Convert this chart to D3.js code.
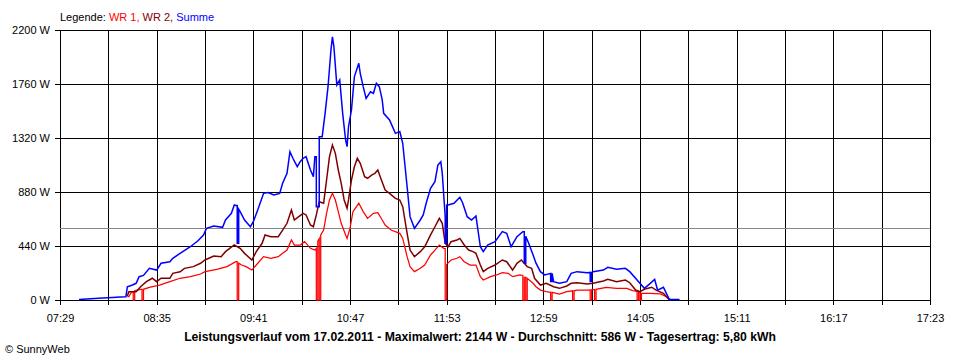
<!DOCTYPE html>
<html>
<head>
<meta charset="utf-8">
<script src="https://cdn.jsdelivr.net/npm/d3@7"></script>
<style>
  html, body { margin: 0; padding: 0; background: #fff; }
  svg { display: block; }
  text { font-family: "Liberation Sans", Arial, sans-serif; }
</style>
</head>
<body>
<svg id="chart" width="960" height="360"></svg>
<script>
// ---------- data ----------
const yTickValues = [0, 440, 880, 1320, 1760, 2200];
const xTickLabels = ["07:29", "08:35", "09:41", "10:47", "11:53", "12:59", "14:05", "15:11", "16:17", "17:23"];
const gridStepMinutes = 33;
const averageValue = 586;
const titleText = "Leistungsverlauf vom 17.02.2011 - Maximalwert: 2144 W - Durchschnitt: 586 W - Tagesertrag: 5,80 kWh";

// WR 1 (red)
const wr1Times = ["08:15","08:16","08:18","08:19","08:19","08:20","08:20","08:24","08:25","08:25","08:26","08:26","08:30","08:37","08:44","08:51","08:58","09:05","09:08","09:16","09:23","09:29","09:30","09:30","09:31","09:31","09:33","09:36","09:40","09:43","09:48","09:53","09:58","10:01","10:04","10:07","10:09","10:13","10:16","10:20","10:23","10:24","10:24","10:25","10:25","10:26","10:26","10:27","10:27","10:29","10:31","10:33","10:35","10:37","10:39","10:41","10:44","10:45","10:47","10:49","10:53","10:56","10:59","11:03","11:06","11:09","11:11","11:15","11:21","11:23","11:26","11:28","11:31","11:35","11:38","11:42","11:45","11:48","11:51","11:52","11:52","11:53","11:53","11:56","12:00","12:02","12:05","12:09","12:13","12:16","12:18","12:23","12:27","12:31","12:35","12:38","12:43","12:45","12:45","12:46","12:46","12:47","12:47","12:48","12:48","12:52","12:54","12:57","13:01","13:04","13:04","13:05","13:05","13:10","13:15","13:19","13:19","13:20","13:20","13:22","13:29","13:31","13:31","13:32","13:32","13:34","13:34","13:35","13:35","13:42","13:49","13:56","14:00","14:03","14:03","14:04","14:04","14:05","14:05","14:06","14:06","14:12","14:19","14:23","14:25"];
const wr1Values = [27,27,68,68,0,0,75,87,87,0,0,87,103,122,149,177,190,212,231,250,272,312,312,0,0,300,285,272,244,285,353,340,353,380,407,489,448,448,475,421,407,420,0,0,480,500,0,0,530,570,706,815,869,815,720,625,530,502,584,720,788,720,665,706,711,652,611,570,543,502,353,272,231,258,285,367,407,448,421,420,0,0,290,326,340,353,312,285,285,190,163,190,204,223,217,190,204,200,0,0,185,185,0,0,177,136,108,81,68,62,0,0,62,49,68,75,0,0,75,81,81,82,0,0,84,85,0,0,87,103,95,95,76,70,0,0,70,65,0,0,54,54,49,27,0];

// WR 2 (dark red)
const wr2Times = ["08:15","08:16","08:21","08:24","08:28","08:32","08:35","08:38","08:44","08:46","08:51","08:54","09:00","09:05","09:08","09:14","09:19","09:22","09:28","09:32","09:35","09:40","09:43","09:47","09:49","09:53","09:58","10:01","10:04","10:07","10:09","10:12","10:15","10:17","10:20","10:22","10:24","10:26","10:29","10:31","10:33","10:35","10:37","10:39","10:41","10:43","10:45","10:46","10:48","10:50","10:52","10:54","10:57","10:59","11:02","11:04","11:06","11:08","11:11","11:14","11:18","11:21","11:23","11:26","11:28","11:31","11:35","11:38","11:42","11:45","11:48","11:50","11:52","11:54","11:56","12:00","12:02","12:05","12:08","12:11","12:13","12:16","12:18","12:21","12:26","12:31","12:34","12:38","12:41","12:44","12:48","12:51","12:53","12:57","13:01","13:06","13:10","13:15","13:18","13:22","13:29","13:33","13:40","13:43","13:49","13:55","13:58","14:02","14:05","14:08","14:13","14:16","14:21","14:24","14:26"];
const wr2Values = [33,68,68,108,149,177,149,177,177,217,230,258,272,299,326,358,353,394,448,421,380,326,394,462,530,516,516,570,625,733,652,679,706,693,611,597,693,801,788,978,1168,1263,1195,1059,951,815,747,815,978,1086,1155,1114,1005,992,1019,1032,1059,992,896,869,828,815,760,543,407,353,394,434,530,597,665,625,462,434,475,489,502,448,407,394,380,285,231,258,285,326,312,244,299,326,272,258,177,122,136,108,95,114,136,141,130,136,155,168,149,163,141,81,68,87,104,81,54,14,0];

// Summe (blue)
const sumTimes = ["07:42","07:50","07:58","08:05","08:10","08:14","08:15","08:18","08:21","08:23","08:26","08:30","08:35","08:38","08:44","08:46","08:51","08:58","09:03","09:07","09:09","09:14","09:20","09:22","09:26","09:28","09:29","09:30","09:30","09:31","09:31","09:32","09:35","09:39","09:41","09:44","09:48","09:51","09:55","09:59","10:01","10:04","10:06","10:08","10:11","10:13","10:15","10:17","10:20","10:22","10:23","10:24","10:24","10:26","10:26","10:28","10:30","10:32","10:34","10:35","10:36","10:38","10:40","10:42","10:44","10:45","10:46","10:48","10:50","10:53","10:54","10:56","10:58","11:01","11:03","11:05","11:07","11:09","11:10","11:14","11:18","11:21","11:23","11:26","11:28","11:31","11:35","11:37","11:39","11:42","11:45","11:47","11:49","11:50","11:52","11:52","11:53","11:53","11:54","11:58","12:02","12:04","12:07","12:10","12:13","12:16","12:18","12:21","12:26","12:31","12:34","12:37","12:41","12:45","12:46","12:46","12:47","12:47","12:49","12:52","12:54","12:57","13:00","13:04","13:04","13:05","13:05","13:06","13:10","13:15","13:18","13:22","13:29","13:31","13:31","13:32","13:32","13:33","13:40","13:43","13:49","13:55","13:58","14:03","14:08","14:12","14:15","14:17","14:21","14:23","14:25","14:32"];
const sumValues = [5,10,16,20,24,27,108,120,136,190,200,258,244,299,312,340,380,434,481,530,584,603,592,652,706,774,770,770,462,462,740,720,652,597,638,733,869,875,856,869,951,1032,1208,1155,1086,1127,1155,1168,1059,1005,1168,1168,760,760,1331,1331,1521,1738,2037,2144,2064,1752,1793,1521,1304,1249,1412,1548,1820,1929,1847,1738,1643,1697,1684,1765,1738,1630,1521,1467,1358,1372,1277,923,679,584,652,693,788,910,964,1100,1127,1032,679,462,462,774,774,788,837,788,679,652,684,434,394,448,475,557,543,434,516,557,557,300,300,520,462,367,300,231,204,217,150,150,217,149,136,149,217,231,222,225,150,150,225,231,244,266,250,258,231,163,95,136,168,81,104,54,5,5];

// ---------- layout ----------
const svg = d3.select("#chart");
const W = 960, H = 360;
const m = { left: 60, right: 30, top: 30, bottom: 60 };
const parse = d3.timeParse("%H:%M");
const t0 = parse("07:29"), t1 = parse("17:23");

const x = d3.scaleTime().domain([t0, t1]).range([m.left, W - m.right]);
const y = d3.scaleLinear().domain([0, 2200]).range([H - m.bottom, m.top]);

const gridTimes = d3.range(0, 19).map(i => new Date(t0.getTime() + i * gridStepMinutes * 60000));
const fmt = d3.timeFormat("%H:%M");

// horizontal grid + y ticks
const gGrid = svg.append("g").attr("shape-rendering", "crispEdges");
gGrid.selectAll("line.h").data(yTickValues).join("line")
  .attr("x1", m.left - 5).attr("x2", W - m.right)
  .attr("y1", d => Math.round(y(d)) + 0.5).attr("y2", d => Math.round(y(d)) + 0.5)
  .attr("stroke", "#000").attr("stroke-width", 1);

// vertical grid + x ticks
gGrid.selectAll("line.v").data(gridTimes).join("line")
  .attr("x1", d => Math.round(x(d)) + 0.5).attr("x2", d => Math.round(x(d)) + 0.5)
  .attr("y1", m.top).attr("y2", H - m.bottom + 5)
  .attr("stroke", "#000").attr("stroke-width", 1);

// average line
gGrid.append("line")
  .attr("x1", m.left).attr("x2", W - m.right)
  .attr("y1", Math.round(y(averageValue)) + 0.5).attr("y2", Math.round(y(averageValue)) + 0.5)
  .attr("stroke", "#888").attr("stroke-width", 1);

// y labels
svg.append("g").selectAll("text").data(yTickValues).join("text")
  .attr("x", m.left - 10).attr("y", d => y(d) + 4)
  .attr("text-anchor", "end").attr("font-size", 11).attr("fill", "#000")
  .text(d => d + " W");

// x labels
const labelTimes = xTickLabels.map(parse);
svg.append("g").selectAll("text").data(labelTimes).join("text")
  .attr("x", d => x(d) + 0.5).attr("y", 322)
  .attr("text-anchor", "middle").attr("font-size", 11).attr("fill", "#000")
  .text(d => fmt(d));

// series
const line = d3.line().x(d => x(d[0])).y(d => y(d[1])).curve(d3.curveLinear);
function pts(times, vals) { return times.map((t, i) => [parse(t), vals[i]]); }
const series = [
  { name: "WR 1", data: pts(wr1Times, wr1Values), color: "#ff0000", w: 1.25 },
  { name: "WR 2", data: pts(wr2Times, wr2Values), color: "#800000", w: 1.5 },
  { name: "Summe", data: pts(sumTimes, sumValues), color: "#0000ff", w: 1.5 }
];
svg.append("g").selectAll("path").data(series).join("path")
  .attr("d", d => line(d.data))
  .attr("fill", "none").attr("stroke", d => d.color)
  .attr("stroke-width", d => d.w).attr("stroke-linejoin", "miter");

// legend
const leg = svg.append("text").attr("x", m.left).attr("y", 21).attr("font-size", 11);
leg.append("tspan").attr("fill", "#000").text("Legende: ");
leg.append("tspan").attr("fill", "#ff0000").text("WR 1, ");
leg.append("tspan").attr("fill", "#800000").text("WR 2, ");
leg.append("tspan").attr("fill", "#0000ff").text("Summe");

// title
svg.append("text").attr("x", 480).attr("y", 341).attr("text-anchor", "middle")
  .attr("font-size", 12.2).attr("font-weight", "bold").attr("fill", "#000")
  .text(titleText);

// copyright
svg.append("text").attr("x", 5).attr("y", 353).attr("font-size", 11).attr("fill", "#000")
  .text("© SunnyWeb");
</script>
</body>
</html>
